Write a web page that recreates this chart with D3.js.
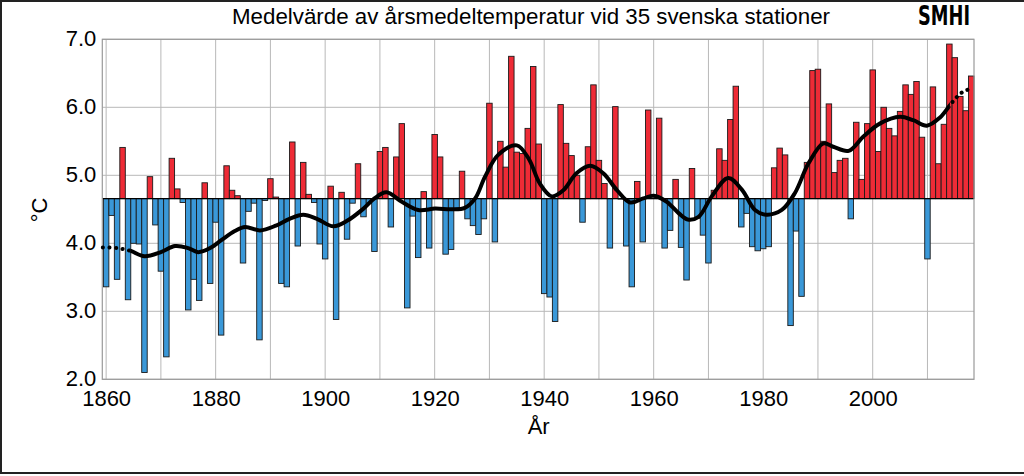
<!DOCTYPE html>
<html><head><meta charset="utf-8">
<script src="https://cdn.jsdelivr.net/npm/d3@7"></script>
<style>html,body{margin:0;padding:0;background:#fff;} svg{display:block;}</style>
</head><body><svg id="c" width="1024" height="476"></svg>
<script>
// ---- data ----
const startYear = 1860;
const annualTemps = [
  3.36,4.41,3.47,5.41,3.17,4.00,3.99,2.10,4.98,4.27, // 1860-1869
  3.59,2.33,5.25,4.80,4.60,3.02,3.47,3.16,4.89,3.41, // 1870-1879
  4.31,2.65,5.14,4.78,4.70,3.71,4.47,4.59,2.58,4.63, // 1880-1889
  4.95,4.68,3.41,3.36,5.49,3.96,5.19,4.72,4.60,3.99, // 1890-1899
  3.77,4.84,2.88,4.75,4.06,4.59,5.17,4.39,4.59,3.88, // 1900-1909
  5.35,5.41,4.24,5.27,5.76,3.05,4.40,3.79,4.76,3.93, // 1910-1919
  5.60,5.27,3.84,3.91,4.51,5.06,4.36,4.26,4.13,4.36, // 1920-1929
  6.06,4.02,5.50,5.12,6.75,5.34,5.32,5.69,6.60,5.46, // 1930-1939
  3.26,3.21,2.85,6.04,5.47,5.29,5.00,4.31,5.42,6.33, // 1940-1949
  5.22,4.88,3.93,6.01,4.65,3.96,3.36,4.91,4.02,5.96, // 1950-1959
  4.66,5.84,3.93,4.19,4.94,3.94,3.46,5.10,4.37,4.12, // 1960-1969
  3.71,4.78,5.39,5.22,5.82,6.31,4.24,4.44,3.95,3.89, // 1970-1979
  3.92,3.95,5.11,5.40,5.30,2.79,4.18,3.22,5.19,6.54, // 1980-1989
  6.56,5.50,6.05,5.04,5.22,5.25,4.36,5.78,4.94,5.76, // 1990-1999
  6.55,5.35,6.00,5.69,5.58,5.94,6.33,6.19,6.38,5.56, // 2000-2009
  3.77,6.30,5.17,5.75,6.93,6.73,6.16,5.95,6.46       // 2010-2018
];
const referenceLevel = 4.657;
const smoothYears = [1859.4,1862,1864.4,1867,1870,1872.6,1875,1876.8,1879,1881.1,1883.5,1885.4,1888.1,1891,1893.5,1896,1898.5,1901.5,1904,1907,1909,1911.2,1914,1917,1920.1,1923,1925.5,1927.4,1929.2,1931.6,1935,1937.2,1939.2,1941.4,1943.5,1945.9,1948.4,1950.8,1953.3,1955.7,1958.1,1960,1962.4,1964.6,1966.2,1968.2,1970.6,1973.6,1976.1,1978.5,1980.6,1983.4,1985.8,1988.3,1991,1992.8,1995.6,1998.3,2001.3,2005,2007.4,2009.9,2012.3,2014.1,2015,2016,2017,2018.3];
const smoothValues = [3.94,3.93,3.89,3.81,3.87,3.96,3.93,3.87,3.93,4.05,4.18,4.24,4.19,4.26,4.36,4.42,4.36,4.25,4.33,4.51,4.66,4.75,4.61,4.49,4.51,4.50,4.52,4.66,4.98,5.30,5.44,5.24,4.88,4.69,4.78,5.03,5.14,5.03,4.78,4.60,4.66,4.70,4.61,4.44,4.35,4.39,4.69,4.96,4.79,4.49,4.42,4.49,4.74,5.18,5.47,5.42,5.36,5.57,5.76,5.86,5.81,5.73,5.85,6.03,6.12,6.20,6.25,6.27];
const solidStartYear = 1864.4, solidEndYear = 2014.1;
const yTicks = [2,3,4,5,6,7];
const xTicks = [1860,1880,1900,1920,1940,1960,1980,2000];
const xGridYears = [1860,1870,1880,1890,1900,1910,1920,1930,1940,1950,1960,1970,1980,1990,2000,2010];
const titleText = "Medelvärde av årsmedeltemperatur vid 35 svenska stationer";
const xLabel = "År", yLabel = "°C", logoText = "SMHI";

// ---- layout ----
const L = 102.3, R = 974, T = 39.3, B = 379.3;
const FONT = "'Liberation Sans', Arial, sans-serif";
const svg = d3.select("#c");
const x = d3.scaleLinear().domain([1859.3, 2018.5]).range([L, R]);
const y = d3.scaleLinear().domain([2, 7]).range([B, T]);

svg.append("rect").attr("width",1024).attr("height",476).attr("fill","#fff");
// outer border (top, left, bottom)
svg.append("path").attr("d","M1024,1 H1 V473 H1024")
  .attr("fill","none").attr("stroke","#222").attr("stroke-width",2);

// gridlines
const grid = svg.append("g").attr("stroke","#b8b8b8").attr("stroke-width",1);
grid.selectAll("line.h").data(yTicks).join("line")
  .attr("x1",L).attr("x2",R).attr("y1",d=>y(d)).attr("y2",d=>y(d));
grid.selectAll("line.v").data(xGridYears).join("line")
  .attr("x1",d=>x(d)).attr("x2",d=>x(d)).attr("y1",T).attr("y2",B);

// bars
const data = annualTemps.map((v,i)=>({year:startYear+i, v}));
svg.append("g").selectAll("rect").data(data).join("rect")
  .attr("x", d => Math.max(L, x(d.year-0.5)))
  .attr("width", d => x(d.year+0.5) - Math.max(L, x(d.year-0.5)))
  .attr("y", d => y(Math.max(d.v, referenceLevel)))
  .attr("height", d => Math.abs(y(d.v) - y(referenceLevel)))
  .attr("fill", d => d.v >= referenceLevel ? "#ee2b36" : "#3a98d8")
  .attr("stroke", "#1a1a1a").attr("stroke-width", 0.9);

// reference line
svg.append("line").attr("x1",L).attr("x2",R)
  .attr("y1",y(referenceLevel)).attr("y2",y(referenceLevel))
  .attr("stroke","#000").attr("stroke-width",1.2);

// frame
svg.append("rect").attr("x",L).attr("y",T).attr("width",R-L).attr("height",B-T)
  .attr("fill","none").attr("stroke","#999").attr("stroke-width",1.2);

// smooth curve
const pts = smoothYears.map((yr,i)=>[yr, smoothValues[i]]);
const line = d3.line().x(d=>x(d[0])).y(d=>y(d[1])).curve(d3.curveCatmullRom.alpha(0.5));
const defs = svg.append("defs");
defs.append("clipPath").attr("id","solidClip").append("rect")
  .attr("x",x(solidStartYear)).attr("y",0).attr("width",x(solidEndYear)-x(solidStartYear)).attr("height",476);
const dc = defs.append("clipPath").attr("id","dotClip");
dc.append("rect").attr("x",0).attr("y",0).attr("width",x(solidStartYear)).attr("height",476);
dc.append("rect").attr("x",x(solidEndYear)).attr("y",0).attr("width",1024-x(solidEndYear)).attr("height",476);
svg.append("path").datum(pts).attr("d",line).attr("fill","none")
  .attr("stroke","#000").attr("stroke-width",4).attr("stroke-linejoin","round")
  .attr("clip-path","url(#solidClip)");
svg.append("path").datum(pts).attr("d",line).attr("fill","none")
  .attr("stroke","#000").attr("stroke-width",4).attr("stroke-linecap","round")
  .attr("stroke-dasharray","0.1,6.5")
  .attr("clip-path","url(#dotClip)");

// axes
const ya = svg.append("g").attr("transform",`translate(${L},0)`)
  .call(d3.axisLeft(y).tickValues(yTicks).tickFormat(d3.format(".1f")).tickSize(0).tickPadding(6));
ya.select(".domain").remove();
ya.selectAll("text").attr("font-family",FONT).attr("font-size",22).attr("fill","#000").attr("dy","0.3em");

const xa = svg.append("g").attr("transform",`translate(0,${B})`)
  .call(d3.axisBottom(x).tickValues(xTicks).tickFormat(d3.format("d")).tickSize(0).tickPadding(11));
xa.select(".domain").remove();
xa.selectAll("text").attr("font-family",FONT).attr("font-size",22).attr("fill","#000");

// labels
svg.append("text").attr("x",x(1939)).attr("y",434).attr("text-anchor","middle")
  .attr("font-family",FONT).attr("font-size",22).text(xLabel);
svg.append("text").attr("transform","translate(47,210) rotate(-90)").attr("text-anchor","middle")
  .attr("font-family",FONT).attr("font-size",22).text(yLabel);
svg.append("text").attr("x",232).attr("y",23.5).attr("textLength",598).attr("lengthAdjust","spacingAndGlyphs")
  .attr("font-family",FONT).attr("font-size",22).text(titleText);
svg.append("text").attr("x",918).attr("y",25).attr("textLength",52).attr("lengthAdjust","spacingAndGlyphs")
  .attr("font-family","'DejaVu Sans Condensed','DejaVu Sans',sans-serif").attr("font-weight","bold")
  .attr("font-size",26).text(logoText);
</script></body></html>
